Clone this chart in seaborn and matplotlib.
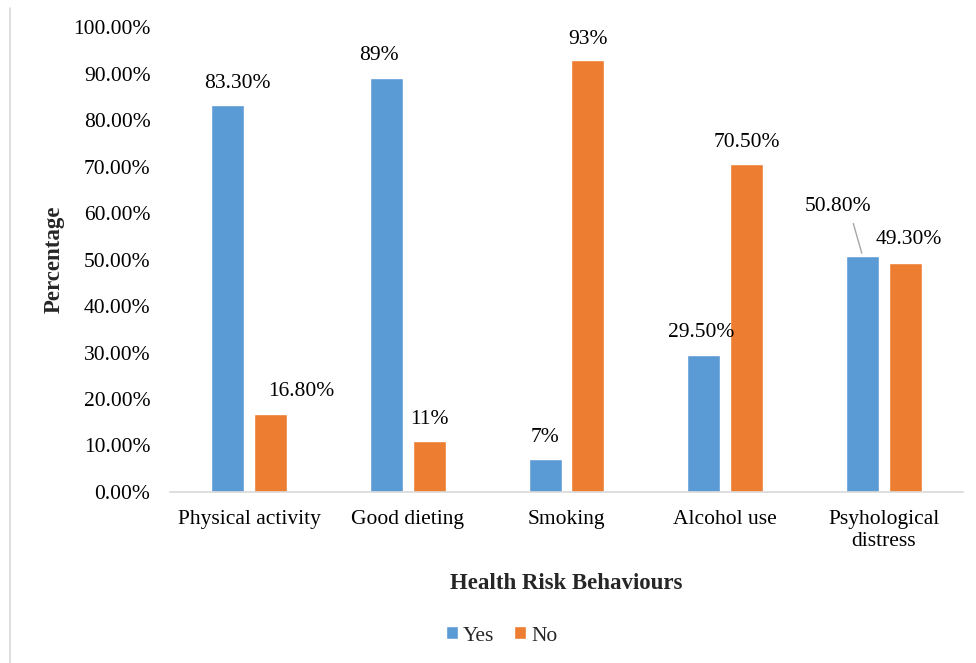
import matplotlib
matplotlib.use("Agg")
import matplotlib.pyplot as plt
import seaborn as sns
import pandas as pd
from matplotlib.lines import Line2D

categories = ["Physical activity", "Good dieting", "Smoking", "Alcohol use", "Psyhological\ndistress"]
yes_values = [83.3, 89.0, 7.0, 29.5, 50.8]
no_values = [16.8, 11.0, 93.0, 70.5, 49.3]
yes_labels = ["83.30%", "89%", "7%", "29.50%", "50.80%"]
no_labels = ["16.80%", "11%", "93%", "70.50%", "49.30%"]
y_ticks = [0, 10, 20, 30, 40, 50, 60, 70, 80, 90, 100]

df = pd.DataFrame({
    "Category": categories * 2,
    "Value": yes_values + no_values,
    "Group": ["Yes"] * len(categories) + ["No"] * len(categories),
})

sns.set_theme(style="white")
plt.rcParams["font.family"] = ["Liberation Serif", "DejaVu Serif"]

fig = plt.figure(figsize=(9.76, 6.63), dpi=100)
ax = fig.add_axes([0.174, 0.258, 0.813, 0.701])

sns.barplot(data=df, x="Category", y="Value", hue="Group", order=categories,
            hue_order=["Yes", "No"], palette=["#5B9BD5", "#ED7D31"],
            width=0.54, gap=0.23, ax=ax, legend=True, saturation=1)

ax.set_ylim(0, 100)
ax.set_xlim(-0.5, 4.5)
ax.set_yticks(y_ticks)
ax.set_yticklabels([f"{t:.2f}%" for t in y_ticks], fontsize=15.5, color="#000000")
ax.tick_params(axis="x", labelsize=15.5, colors="#000000", pad=13)
ax.tick_params(axis="y", pad=14)
ax.tick_params(length=0)
for s in ["top", "right", "left"]:
    ax.spines[s].set_visible(False)
ax.spines["bottom"].set_color("#D9D9D9")
ax.spines["bottom"].set_linewidth(1.2)

ax.set_xlabel("Health Risk Behaviours", fontsize=16.5, fontweight="bold", labelpad=16)
ax.set_ylabel("Percentage", fontsize=16.5, fontweight="bold", labelpad=6)

# data labels
offsets_yes = [(10, 21), (-8, 23), (0, 22), (-3, 22), (-25, 49)]
offsets_no = [(31, 22), (0, 21), (0, 20), (0, 22), (3, 23)]
n = len(categories)
patches = [p for p in ax.patches if p.get_height() > 0][: 2 * n]
yes_p = sorted(patches[:n], key=lambda p: p.get_x())
no_p = sorted(patches[n:], key=lambda p: p.get_x())
for p, lab, off in zip(yes_p, yes_labels, offsets_yes):
    cx = p.get_x() + p.get_width() / 2
    ax.annotate(lab, (cx, p.get_height()), xytext=off, textcoords="offset pixels",
                ha="center", va="center", fontsize=15.5, color="#000000")
for p, lab, off in zip(no_p, no_labels, offsets_no):
    cx = p.get_x() + p.get_width() / 2
    ax.annotate(lab, (cx, p.get_height()), xytext=off, textcoords="offset pixels",
                ha="center", va="center", fontsize=15.5, color="#000000")

# leader line for 50.80%
p = yes_p[4]
cx = p.get_x() + p.get_width() / 2
ax.annotate("", (cx, p.get_height()), xytext=(-10, 35), textcoords="offset pixels",
            arrowprops=dict(arrowstyle="-", color="#A6A6A6", lw=1))

leg = ax.legend(loc="center", bbox_to_anchor=(0.418, -0.31), ncol=2, frameon=False,
                fontsize=15.5, handlelength=0.55, handleheight=0.55, handletextpad=0.25,
                columnspacing=0.9)

fig.add_artist(Line2D([0.0105, 0.0105], [0, 0.988], transform=fig.transFigure,
                      color="#D9D9D9", lw=1.2))

fig.savefig("out.png", dpi=100)
